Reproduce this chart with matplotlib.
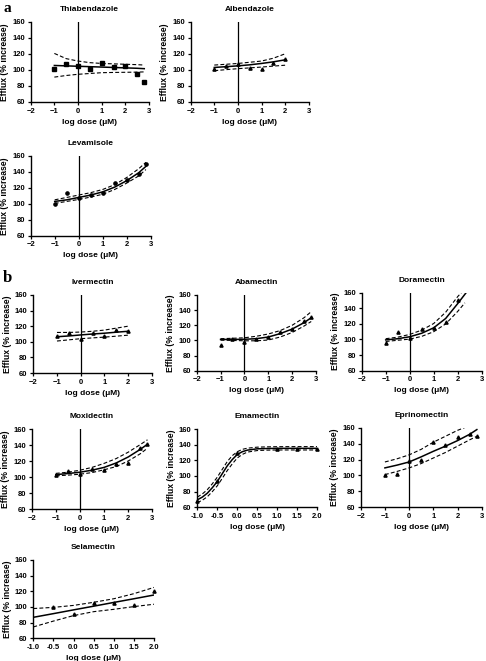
# efflux_dose_response.py

import matplotlib
matplotlib.use("Agg")
import matplotlib.pyplot as plt

plt.rcParams['font.family'] = ['Liberation Sans', 'DejaVu Sans']
plt.rcParams['font.weight'] = 'bold'

# Data (x = log dose in uM, y = efflux % increase)
# each drug: points, fitted curve, upper/lower 95% band
dose9 = [-1, -0.5, 0, 0.5, 1, 1.5, 2, 2.5, 2.8]
dose7 = [-1, -0.5, 0, 0.5, 1, 1.5, 2]

thia_x = dose9
thia_y = [101, 107, 105, 101, 108, 104, 105, 95, 85]
thia_fit = [105.5, 105, 104.5, 104, 103.5, 103, 102.5, 102, 101.5]
thia_hi = [120.5, 114, 111, 109, 108, 107.5, 107, 106.5, 106]
thia_lo = [91, 93, 94.5, 95.5, 96.5, 96.8, 97, 97.2, 97.5]

alb_x = dose7
alb_y = [101, 105, 107, 102, 101, 109, 113]
alb_fit = [103, 104, 105, 106.3, 108, 110, 112.5]
alb_hi = [106, 107, 108, 109.5, 111, 114.5, 120]
alb_lo = [99, 100.3, 101.5, 102.5, 103.5, 104.7, 105.8]

lev_x = dose9
lev_y = [100, 113, 107, 111, 114, 126, 130, 138, 150]
lev_fit = [103, 105, 108, 111, 115, 121, 129, 139, 147]
lev_hi = [105, 108, 111, 114, 118, 124, 133, 144, 152]
lev_lo = [100.5, 103, 105.5, 108.5, 112, 118, 126, 135, 143]

iver_x = dose7
iver_y = [107, 111, 104, 111, 107, 115, 114]
iver_fit = [106.5, 107.5, 108.8, 110, 111, 112.3, 113.5]
iver_hi = [112, 112, 112.5, 113.5, 115, 117.5, 120]
iver_lo = [101, 102.5, 104, 105, 106, 107.2, 108.5]

abam_x = dose9
abam_y = [94, 102, 98, 102, 104, 111, 115, 125, 131]
abam_fit = [101.3, 101.3, 101.5, 102.3, 104.5, 109, 115, 123.5, 130]
abam_hi = [102.3, 102.8, 103.5, 105.5, 108.5, 113, 120, 130, 138]
abam_lo = [100.3, 100, 99.5, 99.5, 100.5, 104.5, 110.5, 119, 125]

dora_x = dose7
dora_y = [96, 110, 102, 113, 115, 122, 150]
dora_fit_x = [-1, -0.5, 0, 0.5, 1, 1.5, 2, 2.35]
dora_fit = [99.5, 101, 103.5, 108, 115, 127, 146, 160]
dora_hi_x = [-1, -0.5, 0, 0.5, 1, 1.5, 2, 2.15]
dora_hi = [101, 103, 106.5, 112, 120.5, 135, 155, 160]
dora_lo_x = [-1, -0.5, 0, 0.5, 1, 1.5, 2, 2.3]
dora_lo = [97.5, 99, 100.5, 104, 110, 120, 136, 147]

moxi_x = dose9
moxi_y = [102, 107, 104, 110, 109, 116, 118, 136, 141]
moxi_fit = [103, 104.3, 106, 108.5, 112, 117.5, 125, 134.5, 141]
moxi_hi = [104.5, 106, 108.5, 112, 117, 123, 131, 140.5, 146.5]
moxi_lo = [101.5, 102.3, 103.5, 105.5, 109, 113, 120, 129, 136]

ema_x = [-1, -0.5, 0, 1, 1.5, 2]
ema_y = [68, 93, 129, 135, 135, 135]
ema_curve_x = [-1, -0.875, -0.75, -0.625, -0.5, -0.375, -0.25, -0.125,
               0, 0.125, 0.25, 0.5, 0.75, 1, 1.5, 2]
ema_fit = [69.5, 73, 78, 85, 93, 103, 113, 121, 127.5, 131, 133, 134.7,
           135.1, 135.3, 135.3, 135.3]
ema_hi = [73, 77, 82.5, 90, 98.5, 108.5, 118.5, 126, 131, 134, 135.5,
          136.8, 137.2, 137.4, 137.5, 137.5]
ema_lo = [66, 69, 73.5, 80, 87.5, 97, 107, 115.5, 123, 127.5, 130.5,
          132.5, 133, 133.2, 133.2, 133.2]

epri_x = dose9
epri_y = [101, 102, 118, 120, 142, 139, 148, 152, 150]
epri_fit = [109.5, 113, 117, 123.5, 130.5, 137, 144, 152, 158]
epri_hi = [117, 121, 126, 133, 142, 149.5, 157, 163, 167]
epri_lo = [101, 105, 109.5, 115, 122, 129, 137, 145, 149.5]

sela_x = [-0.5, 0, 0.5, 1, 1.5, 2]
sela_y = [100, 91, 105, 105, 102, 120]
sela_fit = [86.8, 91.5, 96.3, 101, 105.8, 110.5, 115.3]
sela_hi = [98, 99.5, 102, 106, 110.5, 117, 125]
sela_lo = [74.5, 82, 89, 94, 97, 100.5, 103.5]

W, H = 486, 661


def rect(x0, x1, ytop, ybot):
    return [x0 / W, 1 - ybot / H, (x1 - x0) / W, (ybot - ytop) / H]


def panel(fig, box, title, px, py, cx, fit, hi, lo, marker='^',
          hx=None, lx=None, short=False):
    ax = fig.add_axes(rect(*box))
    ax.plot(cx, fit, color='black', lw=1.1)
    ax.plot(hx if hx else cx, hi, color='black', lw=0.8, ls=(0, (3.5, 2)))
    ax.plot(lx if lx else cx, lo, color='black', lw=0.8, ls=(0, (3.5, 2)))
    ax.plot(px, py, ls='none', marker=marker, ms=2.3, color='black',
            clip_on=False)
    ax.set_ylim(60, 160)
    ax.set_yticks([60, 80, 100, 120, 140, 160])
    if short:
        ax.set_xlim(-1, 2)
        ax.set_xticks([-1, -0.5, 0, 0.5, 1, 1.5, 2])
        ax.set_xticklabels(['-1.0', '-0.5', '0.0', '0.5', '1.0', '1.5', '2.0'])
    else:
        ax.set_xlim(-2, 3)
        ax.set_xticks([-2, -1, 0, 1, 2, 3])
        ax.axvline(0, color='black', lw=0.9)
    for s in ['top', 'right']:
        ax.spines[s].set_visible(False)
    for s in ['left', 'bottom']:
        ax.spines[s].set_linewidth(1.0)
    ax.tick_params(direction='out', length=2.5, width=0.9, labelsize=5.5,
                   pad=1.5)
    ax.set_title(title, fontsize=6, fontweight='bold', pad=8)
    ax.set_xlabel('log dose (μM)', fontsize=6, fontweight='bold', labelpad=3)
    ax.set_ylabel('Efflux (% increase)', fontsize=6.2, fontweight='bold',
                  labelpad=2.5)
    return ax


fig = plt.figure(figsize=(W / 100, H / 100), dpi=100)

panel(fig, (30.7, 149, 21.7, 102), 'Thiabendazole', thia_x, thia_y,
      dose9, thia_fit, thia_hi, thia_lo, marker='s')
panel(fig, (190.7, 308.7, 21.7, 102), 'Albendazole', alb_x, alb_y,
      dose7, alb_fit, alb_hi, alb_lo)
panel(fig, (30.7, 150.7, 156, 235.7), 'Levamisole', lev_x, lev_y,
      dose9, lev_fit, lev_hi, lev_lo, marker='o')
panel(fig, (33.3, 151.7, 295, 373), 'Ivermectin', iver_x, iver_y,
      dose7, iver_fit, iver_hi, iver_lo)
panel(fig, (196.7, 316, 295, 370.7), 'Abamectin', abam_x, abam_y,
      dose9, abam_fit, abam_hi, abam_lo)
panel(fig, (361.7, 481.7, 292.7, 370.7), 'Doramectin', dora_x, dora_y,
      dora_fit_x, dora_fit, dora_hi, dora_lo, hx=dora_hi_x, lx=dora_lo_x)
panel(fig, (31.7, 152.3, 429, 509), 'Moxidectin', moxi_x, moxi_y,
      dose9, moxi_fit, moxi_hi, moxi_lo)
panel(fig, (197.3, 317.3, 429, 507.3), 'Emamectin', ema_x, ema_y,
      ema_curve_x, ema_fit, ema_hi, ema_lo, short=True)
panel(fig, (360.7, 481.7, 428, 507), 'Eprinomectin', epri_x, epri_y,
      dose9, epri_fit, epri_hi, epri_lo)
panel(fig, (33.3, 154, 560, 638.3), 'Selamectin', sela_x, sela_y,
      dose7, sela_fit, sela_hi, sela_lo, short=True)

fig.text(3 / W, 1 - 2 / H, 'a', fontsize=11, fontweight='bold',
         family='Liberation Serif', va='top', ha='left')
fig.text(3 / W, 1 - 270 / H, 'b', fontsize=12, fontweight='bold',
         family='Liberation Serif', va='top', ha='left')

fig.savefig('out.png', dpi=100)
